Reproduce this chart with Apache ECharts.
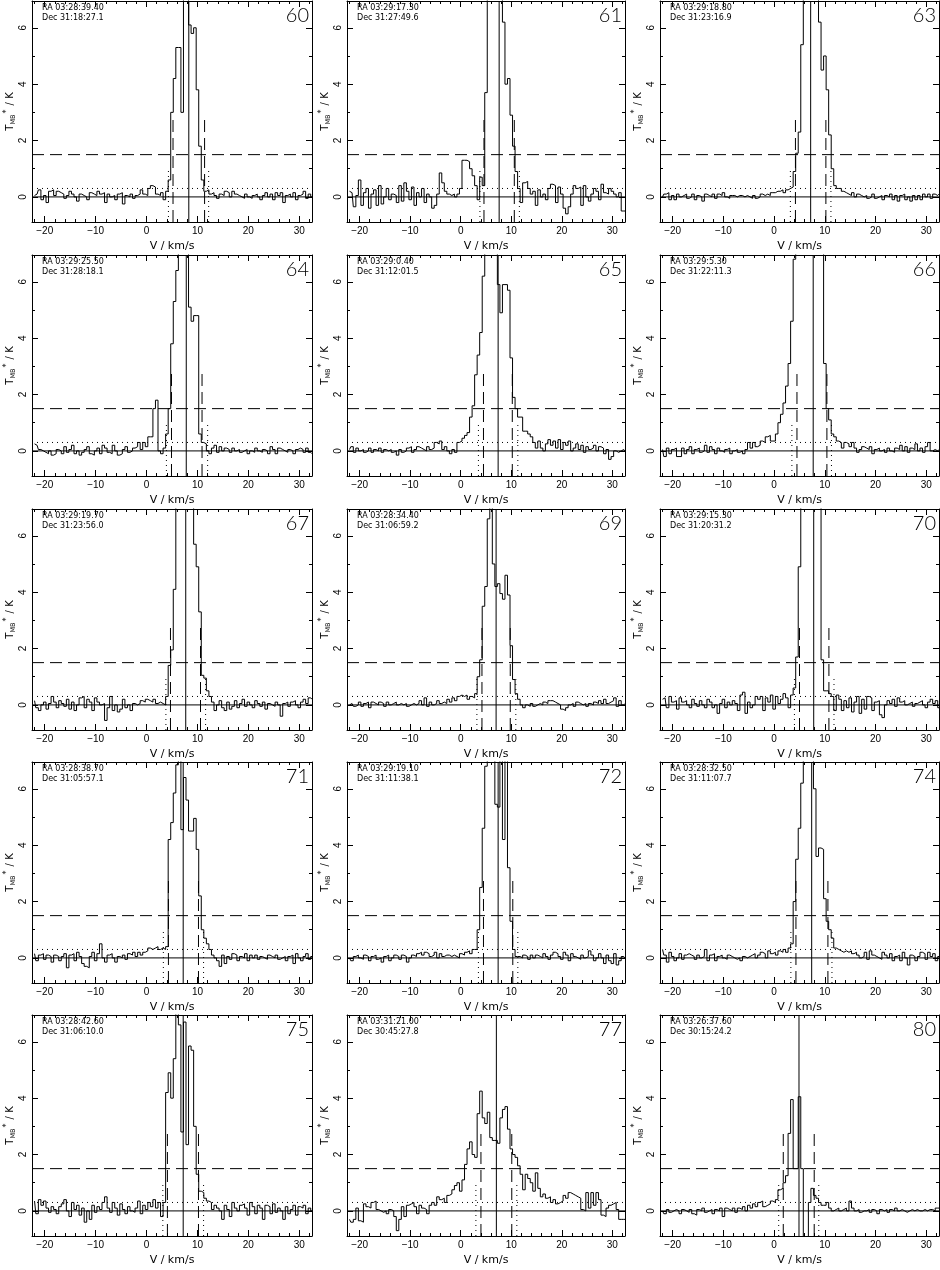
<!DOCTYPE html>
<html>
<head>
<meta charset="utf-8">
<script src="https://cdn.jsdelivr.net/npm/echarts@6/dist/echarts.min.js"></script>
<style>
html,body{margin:0;padding:0;background:#fff;}
#chart{width:940px;height:1270px;}
</style>
</head>
<body>
<div id="chart"></div>
<script>
// ---------------- DATA ----------------
const panelIds = ['60','61','63','64','65','66','67','69','70','71','72','74','75','77','80'];
const raList = ['RA 03:28:39.40','RA 03:29:17.30','RA 03:29:18.80','RA 03:29:25.50','RA 03:29:0.40','RA 03:29:5.30','RA 03:29:19.70','RA 03:28:34.40','RA 03:29:15.30','RA 03:28:38.70','RA 03:29:19.10','RA 03:28:32.50','RA 03:28:42.60','RA 03:31:21.00','RA 03:26:37.60'];
const decList = ['Dec 31:18:27.1','Dec 31:27:49.6','Dec 31:23:16.9','Dec 31:28:18.1','Dec 31:12:01.5','Dec 31:22:11.3','Dec 31:23:56.0','Dec 31:06:59.2','Dec 31:20:31.2','Dec 31:05:57.1','Dec 31:11:38.1','Dec 31:11:07.7','Dec 31:06:10.0','Dec 30:45:27.8','Dec 30:15:24.2'];

// velocity markers (km/s) per panel
const vSys  = [8.3,7.6,7.2,7.8,7.4,7.7,7.7,7.0,7.8,7.2,7.4,7.4,7.2,7.05,4.9];
const vDashL= [5.2,4.6,4.2,4.9,4.5,4.5,4.7,4.2,5.0,4.3,4.5,4.3,4.1,4.0,1.8];
const vDashR= [11.4,10.6,10.2,10.9,10.2,10.4,10.6,9.8,10.8,10.2,10.3,10.6,10.2,10.1,7.9];
const vDotL = [4.3,3.8,3.2,3.9,3.5,3.5,3.8,3.2,4.0,3.3,3.5,3.3,3.2,3.0,0.9];
const vDotR = [12.2,11.6,11.2,12.0,11.3,11.3,11.6,10.9,11.8,11.2,11.3,11.4,11.2,11.1,8.8];

// horizontal levels (K) and marker heights
const levelDashed = 1.5, levelDotted = 0.3, levelBase = 0;
const dashTop = 2.9, dotTop = 1.05;

// channel grid (km/s): first channel centre and width
const chanStart = -22, chanWidth = 0.5;

// spectra T_MB* (K), 110 channels each
const t60 = [0.05,0.1,0.25,-0.1,0.05,-0.2,0.2,0.25,0.05,0.2, 0.15,0.1,-0.05,0.05,0.2,0.1,0.0,-0.15,0.1,0.05, 0.0,-0.1,0.15,0.1,0.05,0.2,0.1,0.15,-0.2,0.1, 0.0,0.05,-0.1,0.1,0.15,-0.25,0.05,0.0,0.1,-0.05, 0.05,0.1,0.25,0.1,0.05,0.3,0.4,0.35,0.1,0.05, 0.15,-0.1,0.2,0.6,3.0,4.2,5.3,5.3,3.0,12, 12,6.1,5.8,6.0,3.8,1.8,0.6,0.2,0.25,0.1, 0.15,0.05,-0.05,0.1,0.05,0.2,0.15,0.0,0.2,0.1, 0.05,0.0,-0.05,0.1,0.0,-0.05,0.05,0.1,0.0,-0.1, 0.05,0.15,0.0,0.1,-0.1,0.15,0.05,0.15,-0.2,0.05, 0.1,0.0,0.15,-0.1,0.05,0.1,0.2,-0.05,0.1,0.0];
const t61 = [0.2,0.15,-0.35,0.05,0.6,-0.3,0.15,0.3,-0.4,0.1, 0.25,-0.3,0.4,-0.25,0.0,0.3,-0.1,0.1,0.05,-0.2, 0.4,-0.15,0.5,0.2,-0.1,0.35,-0.3,0.15,0.0,0.3, -0.2,0.1,0.0,-0.4,-0.3,0.1,0.85,0.5,0.2,0.1, 0.05,0.1,0.0,0.1,0.3,1.3,1.3,1.25,1.0,0.75, 0.4,-0.1,0.7,0.4,3.7,12,12,12,12,12, 12,6.2,4.0,4.2,2.9,1.8,0.9,0.3,-0.2,0.5, 0.55,0.3,0.1,0.2,-0.3,0.25,0.0,0.1,-0.1,0.3, 0.45,0.4,-0.2,0.35,0.1,-0.4,-0.6,-0.35,0.1,0.4, 0.3,0.35,-0.3,0.4,0.0,-0.15,0.1,0.3,0.2,-0.1, 0.45,0.15,0.1,0.3,0.2,0.1,0.0,0.15,-0.5,-0.5];
const t63 = [0.0,0.1,0.15,-0.1,0.05,-0.1,0.1,0.0,0.05,0.1, -0.05,0.0,0.1,-0.1,0.05,0.0,-0.15,0.1,0.05,0.0, 0.1,-0.05,0.1,0.05,0.15,0.0,-0.05,0.05,0.05,0.0, 0.05,0.05,0.0,0.05,0.0,-0.05,0.05,-0.05,0.0,0.1, 0.05,0.1,0.05,0.15,0.15,0.2,0.2,0.25,0.15,0.25, 0.3,0.35,0.9,1.55,2.3,5.4,12,12,12,12, 12,12,6.2,4.5,5.0,3.8,2.2,1.0,0.4,0.3, 0.3,0.2,0.15,0.1,0.05,0.15,0.0,0.1,0.05,0.0, 0.05,-0.05,0.0,0.1,-0.05,0.0,0.05,-0.1,0.05,0.0, 0.1,-0.1,0.05,-0.15,0.05,0.1,-0.1,0.0,-0.15,0.05, -0.1,0.05,-0.1,0.1,0.0,0.1,-0.05,0.1,0.05,0.1];
const t64 = [0.25,0.2,0.05,0.0,-0.05,-0.1,0.0,-0.15,-0.1,0.05, 0.0,-0.1,0.15,-0.05,0.05,0.2,-0.1,0.0,-0.15,-0.05, 0.05,0.15,-0.1,-0.15,0.0,0.1,-0.1,0.2,0.1,-0.05, -0.1,0.2,0.0,-0.15,-0.1,0.05,0.15,-0.05,0.0,0.1, 0.15,0.3,0.05,0.3,0.15,0.5,0.5,1.5,1.8,0.0, -0.1,0.1,0.6,1.5,3.8,5.3,6.4,12,12,12, 12,5.1,4.6,4.8,4.8,0.6,0.3,0.25,0.0,-0.1, 0.1,0.2,-0.05,0.15,0.0,0.1,0.05,-0.05,0.1,0.0, 0.05,-0.05,0.0,0.05,-0.1,0.0,-0.05,0.1,0.0,-0.05, 0.05,0.0,-0.1,0.15,0.05,-0.1,0.1,0.05,0.0,-0.05, 0.05,0.0,-0.1,0.05,0.1,0.05,-0.05,0.1,-0.05,-0.1];
const t65 = [0.05,0.15,-0.05,0.1,0.0,0.05,-0.05,0.0,0.1,-0.05, 0.05,0.0,0.1,-0.05,0.05,0.0,0.05,-0.05,0.0,-0.15, 0.05,-0.05,0.0,0.1,0.15,-0.05,0.05,0.15,0.1,0.05, 0.0,0.15,0.05,0.1,0.3,0.25,0.35,0.05,0.15,0.0, -0.1,0.05,-0.05,0.3,0.35,0.45,0.55,0.65,1.2,1.6, 2.7,3.4,4.2,6.2,12,12,12,12,12,5.9, 4.9,5.9,5.9,5.7,3.3,1.9,1.5,1.2,1.2,0.7, 0.7,0.6,0.5,0.3,0.1,0.35,0.1,0.0,0.25,0.4, 0.2,0.35,0.1,0.4,0.05,0.3,0.2,0.35,0.0,0.1, 0.25,0.05,0.2,-0.05,0.15,0.05,0.1,0.2,0.0,0.15, 0.1,-0.1,0.05,-0.3,-0.2,0.0,-0.05,0.0,0.05,0.0];
const t66 = [0.05,-0.2,0.1,-0.1,0.05,0.1,-0.2,-0.2,0.1,-0.1, 0.05,0.15,-0.1,0.05,0.1,-0.05,0.0,0.2,-0.05,0.15, 0.05,-0.1,0.1,0.0,-0.05,0.05,0.1,-0.1,0.0,0.05, -0.05,0.0,-0.1,0.05,0.3,0.1,0.3,0.15,0.2,0.35, 0.3,0.5,0.55,0.35,0.35,0.6,1.0,1.3,1.7,2.3, 3.1,4.6,6.8,12,12,12,12,12,12,12, 12,12,12,12,3.1,1.5,1.1,0.6,0.5,0.35, 0.3,0.1,0.3,0.25,0.15,0.3,0.1,-0.05,0.05,0.15, 0.1,0.05,0.15,-0.1,0.05,0.1,0.0,0.05,-0.05,0.1, 0.0,-0.05,0.1,0.05,0.2,0.0,0.15,-0.05,0.1,0.05, 0.25,0.0,0.1,-0.05,0.15,0.3,0.0,0.05,0.0,0.05];
const t67 = [0.15,-0.1,-0.2,0.0,0.1,-0.15,0.05,0.3,0.1,-0.1, 0.15,0.05,-0.05,0.2,-0.15,0.1,-0.2,0.0,0.25,0.3, -0.1,0.2,0.1,-0.2,0.25,0.1,0.0,0.05,-0.55,-0.1, 0.3,-0.2,0.0,-0.25,-0.15,0.2,-0.1,0.0,-0.2,0.05, 0.0,0.05,0.15,0.1,0.2,0.15,0.1,0.2,0.05,0.1, 0.05,0.0,0.3,1.4,1.95,4.1,12,12,12,12, 12,12,12,5.7,4.9,3.3,1.05,0.95,0.5,0.3, 0.1,-0.2,0.0,0.15,-0.1,-0.2,0.1,-0.15,-0.05,0.15, -0.1,0.05,0.2,-0.05,0.1,0.0,-0.1,0.15,0.05,-0.05, 0.1,-0.15,0.05,0.0,-0.05,0.1,0.0,-0.4,0.05,0.1, -0.05,0.1,0.15,0.0,-0.1,0.1,0.2,0.05,0.25,0.2];
const t69 = [0.0,0.05,-0.05,0.0,0.1,-0.05,0.05,0.1,-0.1,0.1, 0.05,0.0,0.1,0.05,-0.05,0.1,0.0,0.05,0.1,0.0, 0.05,0.0,0.05,-0.05,0.0,0.05,0.0,0.05,0.15,0.0, 0.25,-0.05,0.1,0.0,0.05,0.15,0.05,0.1,0.05,0.2, 0.1,0.25,0.15,0.3,0.35,0.3,0.35,0.2,0.3,0.25, 0.4,1.0,1.6,3.5,4.2,6.6,12,5.0,4.2,4.3, 3.95,3.75,4.6,3.9,2.1,0.9,0.4,0.2,0.0,-0.1, 0.0,-0.05,0.05,-0.05,0.0,0.05,0.0,0.1,0.05,0.15, 0.15,0.1,0.05,0.0,-0.15,-0.2,-0.1,0.0,0.05,-0.05, 0.1,0.05,0.0,0.05,-0.05,0.05,0.0,0.1,0.05,0.15, 0.05,0.2,0.05,0.1,0.15,0.25,-0.05,0.15,0.0,0.05];
const t70 = [0.2,0.25,-0.1,0.3,0.1,0.15,-0.15,0.25,0.1,0.15, 0.0,-0.1,0.2,0.05,-0.05,0.15,0.0,-0.1,0.2,0.1, -0.1,0.0,-0.3,0.05,0.2,-0.1,0.1,0.0,0.15,0.05, -0.2,0.35,0.45,-0.3,0.1,-0.1,0.0,0.3,0.2,0.3, -0.2,0.25,0.1,0.35,-0.15,0.3,0.05,0.2,0.4,0.25, -0.1,0.35,0.6,1.7,4.9,12,12,12,12,12, 12,12,12,1.6,0.5,0.5,0.4,0.3,-0.2,0.35, 0.2,-0.2,0.15,-0.1,0.25,-0.25,0.1,0.3,-0.3,0.2, -0.15,0.3,0.25,-0.2,0.1,0.15,-0.35,-0.45,0.0,0.15, 0.05,0.2,-0.05,0.25,0.1,0.15,0.0,0.05,0.1,-0.05, 0.05,0.1,0.15,0.0,-0.1,0.1,0.2,0.05,0.15,-0.1];
const t71 = [0.15,-0.1,0.1,0.15,-0.05,0.1,0.05,-0.15,0.1,0.05, -0.1,0.05,0.15,-0.35,0.1,0.15,-0.1,0.2,0.05,-0.2, -0.3,-0.35,0.05,0.2,-0.1,0.15,0.5,0.0,-0.15,0.1, 0.15,0.0,-0.15,0.05,0.0,0.1,-0.05,0.15,0.1,0.2, 0.05,0.2,0.1,0.2,0.25,0.35,0.3,0.35,0.4,0.3, 0.35,0.3,0.4,4.2,4.8,5.85,6.85,12,4.55,6.4, 5.6,4.5,4.5,4.95,3.85,2.2,1.0,0.7,0.5,0.3, 0.1,0.0,-0.1,-0.3,0.1,-0.2,0.05,-0.05,0.15,0.1, -0.1,0.05,0.0,0.15,-0.1,0.1,0.0,0.1,-0.05,0.05, 0.0,-0.05,0.1,0.05,0.0,0.1,-0.05,0.0,0.05,-0.1, 0.05,0.1,-0.2,0.15,0.0,-0.1,0.05,0.15,-0.05,0.05];
const t72 = [0.0,-0.1,0.05,0.1,0.0,-0.05,0.1,0.05,-0.1,0.05, 0.1,-0.05,0.0,-0.15,0.05,0.1,-0.1,0.0,0.1,0.05, -0.05,0.1,0.05,-0.15,0.0,0.1,0.05,0.15,0.2,0.1, 0.2,0.15,0.05,0.1,0.2,0.0,0.15,0.05,0.1,0.1, 0.05,0.1,0.05,0.0,0.15,0.1,0.2,0.25,0.15,0.3, 0.3,1.0,2.5,4.6,6.8,12,12,12,5.45,5.35, 12,4.2,12,3.2,1.3,0.3,0.05,0.05,0.0,0.1, 0.05,-0.05,0.1,0.0,0.1,0.05,0.0,0.15,0.05,-0.05, 0.1,0.2,0.15,0.05,-0.05,0.2,0.1,-0.1,0.15,0.05, 0.0,-0.05,0.1,0.0,0.05,0.25,0.1,-0.1,0.0,0.15, 0.0,-0.2,0.1,-0.1,-0.2,0.15,-0.25,-0.1,0.05,0.0];
const t74 = [0.3,0.1,-0.15,0.2,0.05,-0.1,0.0,0.15,-0.05,0.1, 0.15,0.1,0.05,-0.05,0.1,0.0,0.05,0.3,-0.1,0.1, 0.15,-0.1,0.05,0.1,0.0,-0.05,0.1,0.05,0.0,-0.05, 0.0,-0.1,0.05,0.0,0.05,0.1,0.15,0.0,0.1,0.2, 0.15,0.0,0.25,0.15,0.2,0.1,0.25,0.2,0.3,0.2, 0.35,0.5,2.0,3.5,4.6,6.2,12,12,12,12, 6.0,3.6,3.9,3.85,2.1,1.3,1.0,0.7,0.35,0.3, 0.25,0.2,0.25,0.2,0.25,0.15,0.2,0.1,0.0,0.05, 0.2,-0.05,0.25,0.1,0.05,0.0,-0.05,0.2,0.1,0.0, 0.15,-0.1,0.05,0.1,-0.1,0.2,0.0,-0.25,0.1,0.05, -0.1,0.05,0.2,0.15,-0.05,0.2,0.05,0.15,-0.1,0.05];
const t75 = [0.35,-0.1,0.4,0.2,0.35,0.1,-0.05,0.15,0.05,-0.1, 0.15,0.25,0.4,0.0,-0.2,0.3,0.05,0.2,-0.15,0.1, -0.4,0.0,-0.3,0.2,-0.05,0.15,0.05,0.3,0.5,0.1, -0.05,0.3,0.1,-0.15,0.25,0.05,-0.1,0.15,0.0,-0.05, 0.1,0.35,-0.1,0.2,0.05,0.3,0.15,0.4,0.1,0.3, -0.2,0.3,4.2,4.9,4.0,5.4,12,6.6,2.8,6.7, 2.35,5.85,5.7,3.0,1.3,0.7,0.65,0.45,0.35,0.3, 0.05,0.2,0.1,0.0,-0.3,0.2,0.05,-0.2,0.3,0.1, 0.0,0.2,0.25,0.1,-0.15,0.3,0.15,-0.1,0.2,0.1, -0.3,0.2,0.15,-0.1,0.25,-0.05,0.1,0.0,-0.3,0.15, -0.1,0.05,0.2,-0.15,0.15,0.1,0.2,-0.1,0.1,0.0];
const t77 = [-0.3,-0.4,-0.3,0.1,-0.35,-0.4,0.25,0.15,0.1,0.3, 0.35,0.05,0.0,-0.05,0.0,-0.1,0.05,0.0,-0.2,-0.7, -0.3,0.15,-0.2,0.2,0.25,0.3,0.15,-0.1,0.2,0.1, 0.05,-0.1,0.2,0.3,0.2,0.5,0.4,0.45,0.3,0.55, 0.6,0.75,0.9,1.0,0.7,1.1,1.65,2.2,2.45,2.0, 1.9,3.45,4.25,3.3,3.1,3.5,2.6,2.5,2.5,2.4, 3.3,3.6,3.7,2.9,2.2,2.0,1.9,1.6,1.3,0.75, 1.3,1.15,1.0,0.7,1.35,0.8,0.5,0.6,0.45,0.5, 0.3,0.4,0.25,0.3,0.35,0.55,0.45,0.65,0.6,0.55, 0.5,0.45,0.05,0.0,0.65,0.1,0.65,0.2,0.65,0.4, -0.15,-0.2,0.1,0.2,0.25,0.3,0.05,-0.3,-0.3,-0.3];
const t80 = [0.0,-0.1,0.05,-0.05,0.0,0.05,0.0,-0.1,0.05,0.0, -0.05,0.05,-0.1,-0.15,0.05,0.0,0.1,-0.05,0.0,0.05, -0.1,0.05,0.0,0.1,-0.2,0.1,0.05,0.0,0.1,-0.05, 0.1,0.05,0.15,0.0,0.2,0.1,0.25,0.15,0.3,0.35, 0.15,0.2,0.25,0.35,0.3,0.4,0.75,0.8,1.0,1.25, 2.75,3.95,1.5,1.5,4.05,1.5,-2,-2,0.3,0.8, 0.55,0.45,0.3,0.2,0.2,0.3,0.1,0.0,0.05,0.1, 0.0,0.05,0.1,0.0,0.35,0.1,0.0,0.05,-0.05,0.0, 0.0,0.05,-0.05,0.05,0.0,-0.1,0.05,0.0,0.05,-0.05, 0.05,0.0,0.1,0.0,0.05,0.0,-0.05,0.0,0.05,0.0, 0.05,0.0,0.0,0.05,0.0,0.05,0.05,0.0,0.1,0.1];
const spectra = [t60,t61,t63,t64,t65,t66,t67,t69,t70,t71,t72,t74,t75,t77,t80];

// axes
const xMin = -22.5, xMax = 32.5, yMin = -0.89, yMax = 6.95;
const xMajorTicks = [-20,-10,0,10,20,30];
const xMinorTicks = [-22,-18,-16,-14,-12,-8,-6,-4,-2,2,4,6,8,12,14,16,18,22,24,26,28,32];
const yMajorTicks = [0,2,4,6];
const yMinorTicks = [1,3,5];

// ---------------- LAYOUT ----------------
const colLeft = [32, 347, 660];
const colWidth = [280, 278, 279];
const rowTop = [1, 255, 509, 762, 1015];
const gridH = 221;
const INK = '#000';
const fTick = '"Liberation Sans", Arial, sans-serif';
const fName = '"DejaVu Sans", sans-serif';

const grids = [], xAxes = [], yAxes = [], series = [], graphics = [];
const fmt = v => v < 0 ? '\u2212' + Math.abs(v) : String(v);

panelIds.forEach((id, k) => {
  const r = Math.floor(k / 3), c = k % 3;
  const L = colLeft[c], T = rowTop[r], W = colWidth[c];
  grids.push({left: L, top: T, width: W, height: gridH, containLabel: false});
  const g = k;
  const lineOn = {show: true, onZero: false, lineStyle: {color: INK, width: 1}};
  const lineOff = {show: false, onZero: false};
  const xb = {gridIndex: g, type: 'value', min: xMin, max: xMax, splitLine: {show: false}};
  const xi = xAxes.length;
  xAxes.push(Object.assign({}, xb, {position: 'bottom', axisLine: lineOn,
    axisTick: {show: true, inside: true, length: 6, customValues: xMajorTicks, lineStyle: {color: INK}},
    axisLabel: {show: true, customValues: xMajorTicks, formatter: fmt, color: INK, fontSize: 10, fontFamily: fTick, margin: 4},
    name: 'V / km/s', nameLocation: 'middle', nameGap: 19,
    nameTextStyle: {color: INK, fontSize: 11, fontFamily: fName}}));
  xAxes.push(Object.assign({}, xb, {position: 'bottom', axisLine: lineOff,
    axisTick: {show: true, inside: true, length: 3, customValues: xMinorTicks, lineStyle: {color: INK}},
    axisLabel: {show: false}}));
  xAxes.push(Object.assign({}, xb, {position: 'top', axisLine: lineOn,
    axisTick: {show: true, inside: true, length: 6, customValues: xMajorTicks, lineStyle: {color: INK}},
    axisLabel: {show: false}}));
  xAxes.push(Object.assign({}, xb, {position: 'top', axisLine: lineOff,
    axisTick: {show: true, inside: true, length: 3, customValues: xMinorTicks, lineStyle: {color: INK}},
    axisLabel: {show: false}}));

  const yb = {gridIndex: g, type: 'value', min: yMin, max: yMax, splitLine: {show: false}};
  const yi = yAxes.length;
  yAxes.push(Object.assign({}, yb, {position: 'left', axisLine: lineOn,
    axisTick: {show: true, inside: true, length: 6, customValues: yMajorTicks, lineStyle: {color: INK}},
    axisLabel: {show: true, customValues: yMajorTicks, rotate: 90, color: INK, fontSize: 10, fontFamily: fTick, margin: 4},
    name: '{a|T}{b|MB}{c|*}{a| / K}', nameLocation: 'middle', nameRotate: 90, nameGap: 13,
    nameTextStyle: {color: INK, fontFamily: fName, fontSize: 10,
      rich: {a: {fontSize: 10, fontFamily: fName, color: INK, lineHeight: 14},
             b: {fontSize: 6.5, fontFamily: fName, color: INK, lineHeight: 14, verticalAlign: 'bottom', padding: [6,0,0,0]},
             c: {fontSize: 8, fontFamily: fName, color: INK, lineHeight: 14, verticalAlign: 'top', padding: [0,1,4,1]}}}}));
  yAxes.push(Object.assign({}, yb, {position: 'left', axisLine: lineOff,
    axisTick: {show: true, inside: true, length: 3, customValues: yMinorTicks, lineStyle: {color: INK}},
    axisLabel: {show: false}}));
  yAxes.push(Object.assign({}, yb, {position: 'right', axisLine: lineOn,
    axisTick: {show: true, inside: true, length: 6, customValues: yMajorTicks, lineStyle: {color: INK}},
    axisLabel: {show: false}}));
  yAxes.push(Object.assign({}, yb, {position: 'right', axisLine: lineOff,
    axisTick: {show: true, inside: true, length: 3, customValues: yMinorTicks, lineStyle: {color: INK}},
    axisLabel: {show: false}}));

  const mk = (data, type, extra) => Object.assign({
    type: 'line', xAxisIndex: xi, yAxisIndex: yi, data: data, symbol: 'none', silent: true,
    clip: true, animation: false, z: 2,
    lineStyle: {color: INK, width: 1, type: type || 'solid'}
  }, extra || {});

  // reference lines
  series.push(mk([[xMin, levelBase], [xMax, levelBase]], 'solid'));
  series.push(mk([[xMin, levelDashed], [xMax, levelDashed]], [12, 6]));
  series.push(mk([[xMin, levelDotted], [xMax, levelDotted]], [1, 4]));
  series.push(mk([[vSys[k], yMin], [vSys[k], yMax]], 'solid'));
  series.push(mk([[vDashL[k], yMin], [vDashL[k], dashTop]], [12, 6]));
  series.push(mk([[vDashR[k], yMin], [vDashR[k], dashTop]], [12, 6]));
  series.push(mk([[vDotL[k], yMin], [vDotL[k], dotTop]], [1, 4]));
  series.push(mk([[vDotR[k], yMin], [vDotR[k], dotTop]], [1, 4]));
  // spectrum
  series.push(mk(spectra[k].map((t, i) => [chanStart + i * chanWidth, t]), 'solid', {step: 'middle', z: 3}));

  // texts
  graphics.push({type: 'text', x: L + 10, y: T + 7, silent: true,
    style: {text: raList[k], fill: INK, font: '8px "DejaVu Sans", sans-serif', textAlign: 'left', textVerticalAlign: 'middle'}});
  graphics.push({type: 'text', x: L + 10, y: T + 17, silent: true,
    style: {text: decList[k], fill: INK, font: '8px "DejaVu Sans", sans-serif', textAlign: 'left', textVerticalAlign: 'middle'}});
  graphics.push({type: 'text', x: L + W - 3, y: T + 15, silent: true,
    style: {text: id, fill: INK, font: '300 20px Lato, "Open Sans", sans-serif', textAlign: 'right', textVerticalAlign: 'middle'}});
});

const chart = echarts.init(document.getElementById('chart'), null, {renderer: 'canvas'});
chart.setOption({
  backgroundColor: '#fff',
  animation: false,
  grid: grids,
  xAxis: xAxes,
  yAxis: yAxes,
  series: series,
  graphic: graphics
});
</script>
</body>
</html>
